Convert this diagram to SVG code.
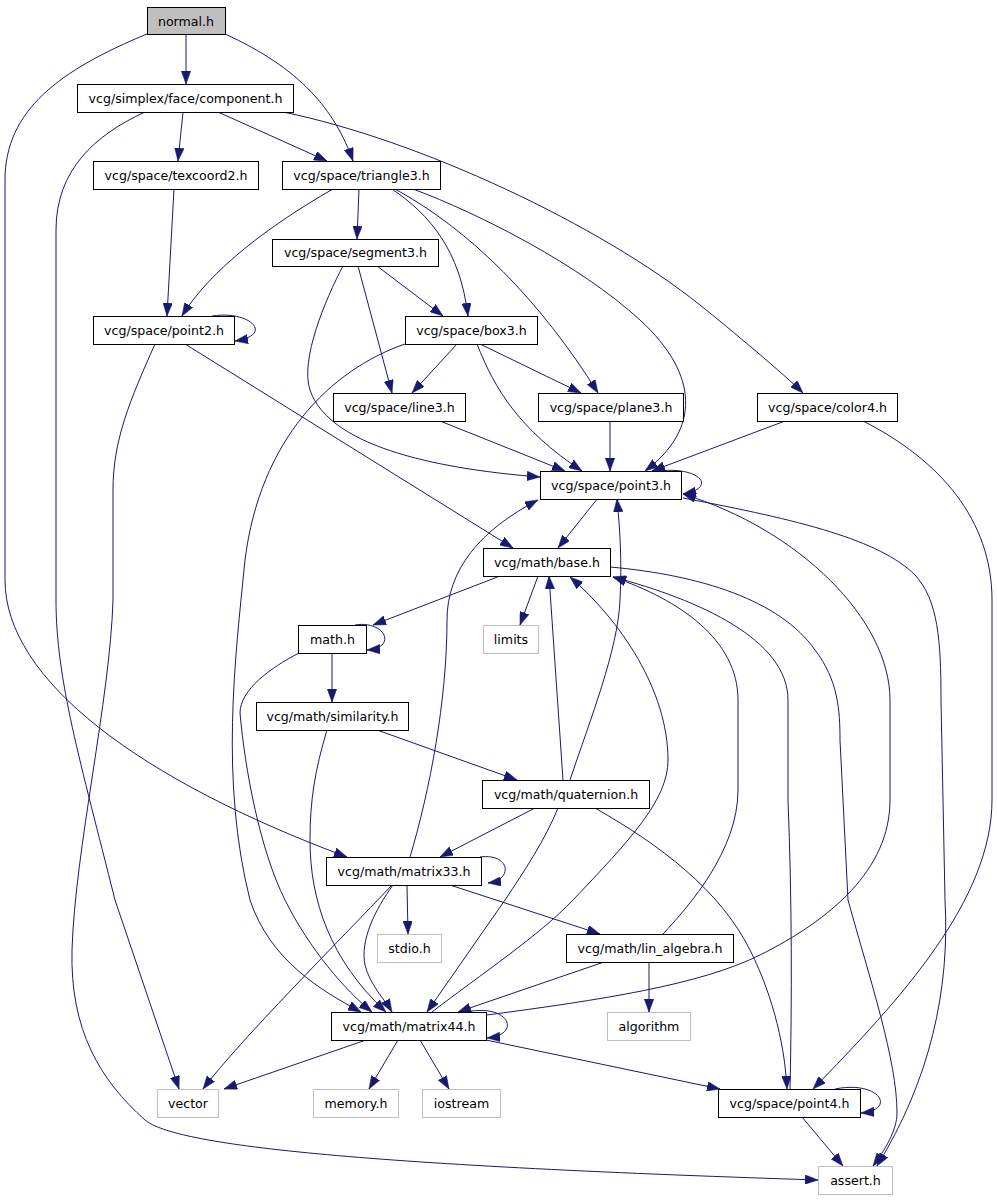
<svg xmlns="http://www.w3.org/2000/svg" width="997" height="1200" viewBox="0 0 997 1200">
<defs>
<style>
.n rect{fill:#fff;stroke:#000;stroke-width:1}
.g rect{fill:#fff;stroke:#bfbfbf;stroke-width:1}
.r rect{fill:#bfbfbf;stroke:#000;stroke-width:1}
text{font-family:"DejaVu Sans","Liberation Sans",sans-serif;font-size:12.6px;fill:#000;text-anchor:middle}
#edges path{fill:none;stroke:#191970;stroke-width:1;marker-end:url(#ah)}
</style>
<marker id="ah" viewBox="0 0 13 9.5" refX="13" refY="4.75" markerWidth="13" markerHeight="9.5" markerUnits="userSpaceOnUse" orient="auto">
<path d="M0,0 L13,4.75 L0,9.5 z" fill="#191970" stroke="#191970" stroke-width="0.5"/>
</marker>
</defs>
<rect x="0" y="0" width="997" height="1200" fill="#fff"/>
<g id="edges">
<path d="M186,34 L186,84"/>
<path d="M225,34 C300,68 335,110 353,161"/>
<path d="M147,34 C60,70 5,110 5,180 L5,580 C5,680 140,780 347,857"/>
<path d="M183,112 L178,161"/>
<path d="M218,112 L327,161"/>
<path d="M145,112 C95,135 56,170 56,230 L56,600 C56,680 80,760 115,900 L179,1089"/>
<path d="M283,112 C420,140 600,225 700,305 C730,329 785,375 803,393"/>
<path d="M174,189 L167,316"/>
<path d="M333,189 C270,225 210,270 182,316"/>
<path d="M212,316 C250,310 275,335 235,341"/>
<path d="M185,344 L513,548"/>
<path d="M155,344 C130,400 113,440 113,490 L113,600 C110,700 75,850 72,950 C70,1030 100,1080 145,1120 C175,1145 350,1165 818,1180"/>
<path d="M359,189 L357,239"/>
<path d="M392,189 C430,215 460,250 468,316"/>
<path d="M395,189 C470,230 540,300 598,393"/>
<path d="M413,189 C480,214 580,265 640,320 C700,375 700,430 645,471"/>
<path d="M377,266 L443,316"/>
<path d="M358,266 L392,393"/>
<path d="M343,266 C325,300 300,360 310,390 C330,450 450,470 540,477"/>
<path d="M457,344 L412,393"/>
<path d="M480,344 L581,393"/>
<path d="M477,344 C495,390 520,430 582,471"/>
<path d="M405,344 C330,370 260,440 245,560 C235,660 220,780 250,900 C270,960 320,990 361,1012"/>
<path d="M440,421 L565,471"/>
<path d="M610,421 L610,471"/>
<path d="M785,421 L652,471"/>
<path d="M863,421 C940,460 992,520 992,600 L992,800 C992,900 900,1000 813,1089"/>
<path d="M658,471 C700,466 718,488 683,494"/>
<path d="M598,498 L558,548"/>
<path d="M683,498 C800,520 880,540 915,575 C938,600 941,640 941,700 L945,900 C950,990 930,1080 877,1166"/>
<path d="M487,1015 C600,1000 700,985 760,955 C830,920 890,870 890,800 L890,700 C890,620 800,530 683,494"/>
<path d="M500,576 L373,625"/>
<path d="M538,576 L520,625"/>
<path d="M610,567 C700,575 780,600 815,650 C838,680 840,710 840,740 L848,900 C870,980 897,1060 897,1113 C897,1130 885,1150 873,1166"/>
<path d="M355,625 C385,620 398,648 367,650"/>
<path d="M332,653 L332,702"/>
<path d="M299,653 C270,668 240,690 240,713 C245,770 260,850 285,900 C310,950 345,990 372,1012"/>
<path d="M377,730 L517,780"/>
<path d="M327,730 C315,770 310,800 310,840 C310,900 330,960 386,1012"/>
<path d="M563,780 L549,576"/>
<path d="M570,780 C590,720 618,650 620,600 C622,560 620,530 617,499"/>
<path d="M535,808 L440,857"/>
<path d="M558,808 C545,840 525,870 505,900 L427,1012"/>
<path d="M595,808 C660,845 720,890 750,950 C775,1000 785,1050 787,1089"/>
<path d="M432,1012 C480,975 540,935 573,900 C630,840 668,800 668,760 C668,690 620,620 570,577"/>
<path d="M480,857 C510,853 514,880 488,883"/>
<path d="M410,857 C430,790 447,700 447,620 C447,570 480,530 538,500"/>
<path d="M407,885 L408,934"/>
<path d="M392,885 C340,940 240,1040 203,1089"/>
<path d="M393,885 C375,910 360,940 365,965 C370,985 385,1000 392,1012"/>
<path d="M450,885 L600,934"/>
<path d="M604,962 L458,1012"/>
<path d="M663,934 C690,905 738,850 738,790 L738,700 C738,640 680,600 613,577"/>
<path d="M649,962 L649,1012"/>
<path d="M466,1012 C510,1003 522,1035 487,1038"/>
<path d="M366,1040 L224,1089"/>
<path d="M398,1040 L369,1089"/>
<path d="M420,1040 L449,1089"/>
<path d="M486,1040 L720,1089"/>
<path d="M835,1089 C880,1080 897,1110 861,1113"/>
<path d="M790,1089 C792,1000 792,900 788,800 L788,700 C788,640 700,600 613,577"/>
<path d="M802,1117 L843,1166"/>
</g>
<g id="normal_h" class="r"><rect x="147.5" y="7.5" width="78" height="27"/><text x="186" y="25.5">normal.h</text></g>
<g id="component_h" class="n"><rect x="77.5" y="84.5" width="216" height="28"/><text x="185.5" y="102.5">vcg/simplex/face/component.h</text></g>
<g id="texcoord2_h" class="n"><rect x="93.5" y="161.5" width="165" height="28"/><text x="176" y="179.5">vcg/space/texcoord2.h</text></g>
<g id="triangle3_h" class="n"><rect x="282.5" y="161.5" width="158" height="28"/><text x="361.5" y="179.5">vcg/space/triangle3.h</text></g>
<g id="segment3_h" class="n"><rect x="272.5" y="239.5" width="166" height="27"/><text x="355.5" y="257">vcg/space/segment3.h</text></g>
<g id="point2_h" class="n"><rect x="93.5" y="316.5" width="141" height="28"/><text x="164" y="334.5">vcg/space/point2.h</text></g>
<g id="box3_h" class="n"><rect x="405.5" y="316.5" width="132" height="28"/><text x="471.5" y="334.5">vcg/space/box3.h</text></g>
<g id="line3_h" class="n"><rect x="333.5" y="393.5" width="132" height="28"/><text x="399.5" y="411.5">vcg/space/line3.h</text></g>
<g id="plane3_h" class="n"><rect x="538.5" y="393.5" width="145" height="28"/><text x="611" y="411.5">vcg/space/plane3.h</text></g>
<g id="color4_h" class="n"><rect x="757.5" y="393.5" width="140" height="28"/><text x="827.5" y="411.5">vcg/space/color4.h</text></g>
<g id="point3_h" class="n"><rect x="540.5" y="471.5" width="141" height="28"/><text x="611" y="489.5">vcg/space/point3.h</text></g>
<g id="base_h" class="n"><rect x="483.5" y="548.5" width="127" height="28"/><text x="547" y="566.5">vcg/math/base.h</text></g>
<g id="limits" class="g"><rect x="483.5" y="625.5" width="55" height="28"/><text x="511" y="643.5">limits</text></g>
<g id="math_h" class="n"><rect x="298.5" y="625.5" width="68" height="28"/><text x="332.5" y="643.5">math.h</text></g>
<g id="similarity_h" class="n"><rect x="256.5" y="702.5" width="152" height="28"/><text x="332.5" y="720.5">vcg/math/similarity.h</text></g>
<g id="quaternion_h" class="n"><rect x="482.5" y="780.5" width="167" height="28"/><text x="566" y="798.5">vcg/math/quaternion.h</text></g>
<g id="matrix33_h" class="n"><rect x="326.5" y="857.5" width="155" height="28"/><text x="404" y="875.5">vcg/math/matrix33.h</text></g>
<g id="stdio_h" class="g"><rect x="377.5" y="934.5" width="64" height="28"/><text x="409.5" y="952.5">stdio.h</text></g>
<g id="lin_algebra_h" class="n"><rect x="566.5" y="934.5" width="167" height="28"/><text x="650" y="952.5">vcg/math/lin_algebra.h</text></g>
<g id="matrix44_h" class="n"><rect x="331.5" y="1012.5" width="155" height="28"/><text x="409" y="1030.5">vcg/math/matrix44.h</text></g>
<g id="algorithm" class="g"><rect x="607.5" y="1012.5" width="83" height="28"/><text x="649" y="1030.5">algorithm</text></g>
<g id="vector" class="g"><rect x="157.5" y="1089.5" width="61" height="28"/><text x="188" y="1107.5">vector</text></g>
<g id="memory_h" class="g"><rect x="313.5" y="1089.5" width="85" height="28"/><text x="356" y="1107.5">memory.h</text></g>
<g id="iostream" class="g"><rect x="422.5" y="1089.5" width="78" height="28"/><text x="461.5" y="1107.5">iostream</text></g>
<g id="point4_h" class="n"><rect x="718.5" y="1089.5" width="142" height="28"/><text x="789.5" y="1107.5">vcg/space/point4.h</text></g>
<g id="assert_h" class="g"><rect x="818.5" y="1166.5" width="74" height="28"/><text x="855.5" y="1184.5">assert.h</text></g>
</svg>
